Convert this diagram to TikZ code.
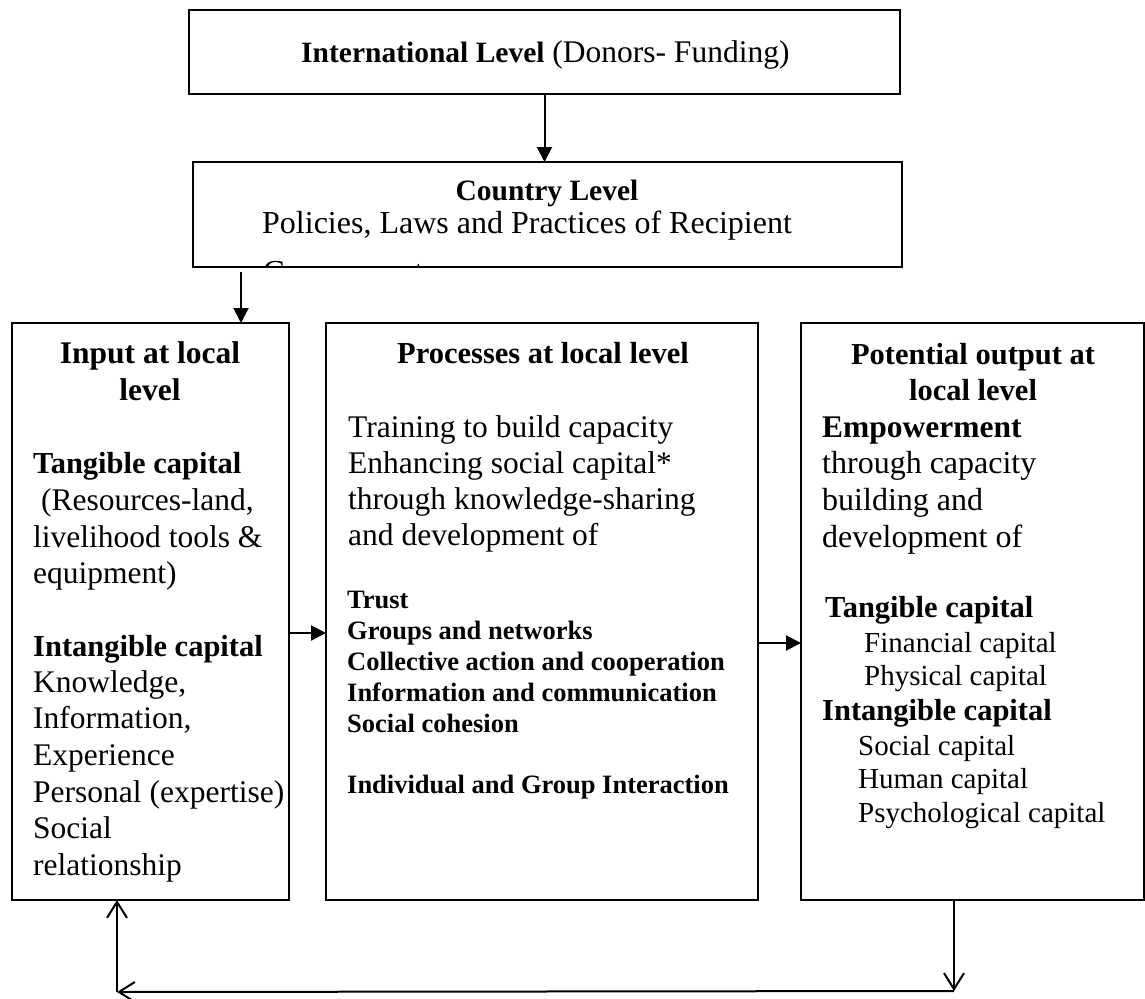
\documentclass[tikz,border=0pt]{standalone}
\usepackage{fontspec}
\setmainfont{Liberation Serif}
\usetikzlibrary{arrows.meta}
\begin{document}
\begin{tikzpicture}[x=1pt,y=-1pt,
  box/.style={draw, line width=1.2pt, anchor=north west, inner sep=0pt, outer sep=0pt},
  tl/.style={anchor=base west, inner sep=0pt},
  tc/.style={anchor=base, inner sep=0pt},
  filledarr/.style={line width=2pt, -{Triangle[length=15pt,width=15pt]}},
  openarr/.style={line width=2pt, -{Straight Barb[length=16pt,width=20pt]}},
  reg/.style={font=\fontsize{31.5}{37}\selectfont},
  regb/.style={font=\fontsize{30.5}{37}\selectfont\bfseries},
  sub/.style={font=\fontsize{29}{34}\selectfont},
  lst/.style={font=\fontsize{26.5}{31}\selectfont\bfseries},
]
\useasboundingbox (0,0) rectangle (1145,998);

% boxes
\node[box, minimum width=711pt, minimum height=84pt] (intl) at (189,10) {};
\node[box, minimum width=709pt, minimum height=105pt] (country) at (193,162) {};
\node[box, minimum width=277pt, minimum height=577pt] (input) at (12,323) {};
\node[box, minimum width=432pt, minimum height=577pt] (proc) at (326,323) {};
\node[box, minimum width=343pt, minimum height=577pt] (output) at (801,323) {};

% top texts
\node[tl] (tintl) at (301,63) {{\fontsize{29.5}{34}\selectfont\bfseries International Level}{\fontsize{31.5}{34}\selectfont\ (Donors- Funding)}};
\node[tc, font=\fontsize{29.5}{34}\selectfont\bfseries] (tcountry) at (547,200) {Country Level};
\node[tl, font=\fontsize{32}{34}\selectfont] (tpol) at (262,233) {Policies, Laws and Practices of Recipient};
\begin{scope}
  \path[clip] (country.north west) rectangle ([yshift=1pt]country.south east);
  \node[tl, font=\fontsize{32}{34}\selectfont] (tgov) at (263,282) {Government};
\end{scope}

% input box
\node[tc, font=\fontsize{31.5}{37}\selectfont\bfseries] (in1) at (150,363) {Input at local};
\node[tc, font=\fontsize{31.5}{37}\selectfont\bfseries] (in2) at (150,400) {level};
\node[tl, regb] (in3) at (33,473) {Tangible capital};
\node[tl, reg] (in4) at (41,510) {(Resources-land,};
\node[tl, reg] (in5) at (33,547) {livelihood tools \&};
\node[tl, reg] (in6) at (33,583) {equipment)};
\node[tl, regb] (in7) at (33,656) {Intangible capital};
\node[tl, reg] (in8) at (33,692) {Knowledge,};
\node[tl, reg] (in9) at (33,728) {Information,};
\node[tl, reg] (in10) at (33,765) {Experience};
\node[tl, reg] (in11) at (33,802) {Personal (expertise)};
\node[tl, reg] (in12) at (33,838) {Social};
\node[tl, reg] (in13) at (33,875) {relationship};

% process box
\node[tc, regb] (pr1) at (543,363) {Processes at local level};
\node[tl, reg] (pr2) at (348,437) {Training to build capacity};
\node[tl, reg] (pr3) at (348,473) {Enhancing social capital*};
\node[tl, reg] (pr4) at (348,509) {through knowledge-sharing};
\node[tl, reg] (pr5) at (348,545) {and development of};
\node[tl, lst] (pr6) at (347,608) {Trust};
\node[tl, lst] (pr7) at (347,639) {Groups and networks};
\node[tl, lst] (pr8) at (347,670) {Collective action and cooperation};
\node[tl, lst] (pr9) at (347,701) {Information and communication};
\node[tl, lst] (pr10) at (347,732) {Social cohesion};
\node[tl, lst] (pr11) at (347,793) {Individual and Group Interaction};

% output box
\node[tc, regb] (ou1) at (973,364) {Potential output at};
\node[tc, regb] (ou2) at (973,400) {local level};
\node[tl, font=\fontsize{31.5}{37}\selectfont\bfseries] (ou3) at (822,437) {Empowerment};
\node[tl, font=\fontsize{32}{37}\selectfont] (ou4) at (822,473) {through capacity};
\node[tl, font=\fontsize{32}{37}\selectfont] (ou5) at (822,510) {building and};
\node[tl, font=\fontsize{32}{37}\selectfont] (ou6) at (822,547) {development of};
\node[tl, regb] (ou7) at (825,617) {Tangible capital};
\node[tl, sub] (ou8) at (864,652) {Financial capital};
\node[tl, sub] (ou9) at (864,685) {Physical capital};
\node[tl, regb] (ou10) at (822,720) {Intangible capital};
\node[tl, sub] (ou11) at (858,755) {Social capital};
\node[tl, sub] (ou12) at (858,788) {Human capital};
\node[tl, sub] (ou13) at (858,822) {Psychological capital};

% connectors
\coordinate (ca) at (241,272);
\coordinate (ya) at (300,633);
\coordinate (yb) at (780,643);
\coordinate (br) at (954,991);
\coordinate (bl) at (117,992);
\draw[filledarr] (intl.south) -- (intl.south |- country.north);
\draw[filledarr] (ca) -- (ca |- input.north);
\draw[filledarr] (input.east |- ya) -- (proc.west |- ya);
\draw[filledarr] (proc.east |- yb) -- (output.west |- yb);
\draw[openarr] (output.south -| br) -- (br);
\draw[openarr] (br) -- (bl);
\draw[openarr] (bl) -- (input.south -| bl);
\end{tikzpicture}
\end{document}
